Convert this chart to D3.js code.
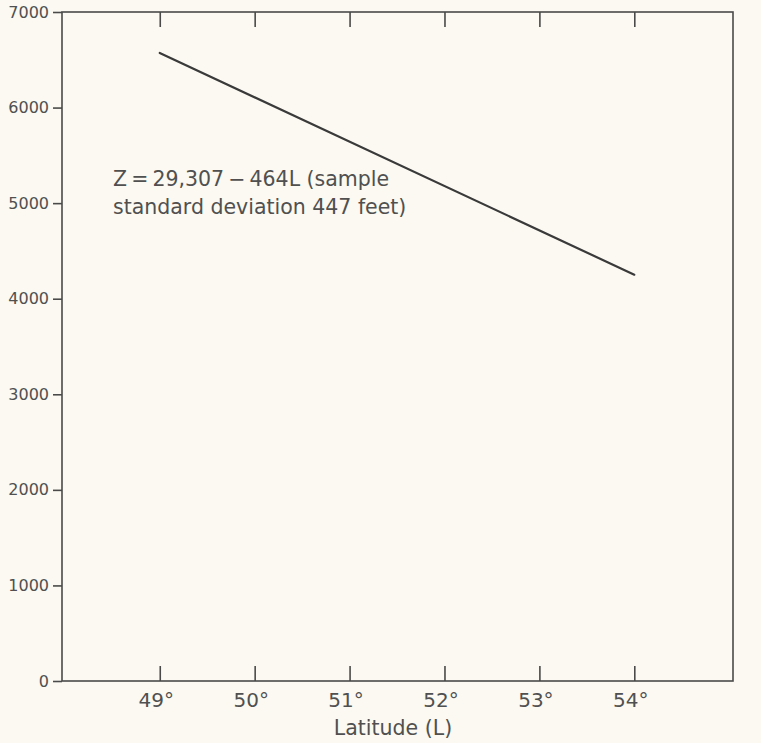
<!DOCTYPE html>
<html>
<head>
<meta charset="utf-8">
<script src="https://cdn.jsdelivr.net/npm/d3@7"></script>
<style>
  html, body { margin: 0; padding: 0; background: #fbf9f1; }
  svg { display: block; }
  text { font-family: "DejaVu Sans", sans-serif; fill: #505050; }
</style>
</head>
<body>
<svg id="chart" width="761" height="743"></svg>
<script>
// 緯度 (L) と標高 Z の回帰直線
const latTicks = [49, 50, 51, 52, 53, 54];
const zTicks = [0, 1000, 2000, 3000, 4000, 5000, 6000, 7000];
const lineLat = [49, 54];
const lineZ = [6571, 4251];
const noteLines = ["Z\u2009=\u200929,307\u2009\u2212\u2009464L (sample", "standard deviation 447 feet)"];
const xLabel = "Latitude (L)";

const svg = d3.select("#chart");
const plotLeft = 62, plotRight = 733, plotTop = 12, plotBottom = 681;

const x = d3.scaleLinear().domain([47.97, 55.04]).range([plotLeft, plotRight]);
const y = d3.scaleLinear().domain([0, 7000]).range([plotBottom, plotTop]);

const ink = "#4a4a4a";

// 枠
svg.append("rect")
  .attr("x", plotLeft).attr("y", plotTop)
  .attr("width", plotRight - plotLeft).attr("height", plotBottom - plotTop)
  .attr("fill", "none").attr("stroke", ink).attr("stroke-width", 1.6);

// 下の目盛り（内向き）
const xAxis = svg.append("g").attr("transform", `translate(0,${plotBottom})`)
  .call(d3.axisBottom(x).tickValues(latTicks).tickSizeInner(-15).tickSizeOuter(0)
    .tickPadding(12).tickFormat(d => d + "\u00b0"));
xAxis.select(".domain").remove();
xAxis.selectAll("line").attr("stroke", ink).attr("stroke-width", 1.6);
xAxis.selectAll("text").style("font-size", "20px").attr("dx", -4);

// 上の目盛り（内向き）
const xTop = svg.append("g").attr("transform", `translate(0,${plotTop})`)
  .call(d3.axisTop(x).tickValues(latTicks).tickSizeInner(-15).tickSizeOuter(0).tickFormat(""));
xTop.select(".domain").remove();
xTop.selectAll("line").attr("stroke", ink).attr("stroke-width", 1.6);

// 左の目盛り（外向き）
const yAxis = svg.append("g").attr("transform", `translate(${plotLeft},0)`)
  .call(d3.axisLeft(y).tickValues(zTicks).tickSizeInner(9).tickSizeOuter(0)
    .tickPadding(4).tickFormat(d3.format("d")));
yAxis.select(".domain").remove();
yAxis.selectAll("line").attr("stroke", ink).attr("stroke-width", 1.6);
yAxis.selectAll("text").style("font-size", "16px");

// 回帰直線
svg.append("path")
  .datum(lineLat.map((d, i) => ({ lat: d, z: lineZ[i] })))
  .attr("d", d3.line().x(d => x(d.lat)).y(d => y(d.z)))
  .attr("fill", "none").attr("stroke", "#3a3a3a").attr("stroke-width", 2.2)
  .attr("stroke-linecap", "round");

// 注記
svg.append("g").selectAll("text").data(noteLines).enter().append("text")
  .attr("x", 113).attr("y", (d, i) => 186 + i * 28)
  .style("font-size", "20.5px")
  .text(d => d);

// 軸ラベル
svg.append("text")
  .attr("x", 393).attr("y", 735)
  .attr("text-anchor", "middle").style("font-size", "20.5px")
  .text(xLabel);
</script>
</body>
</html>
